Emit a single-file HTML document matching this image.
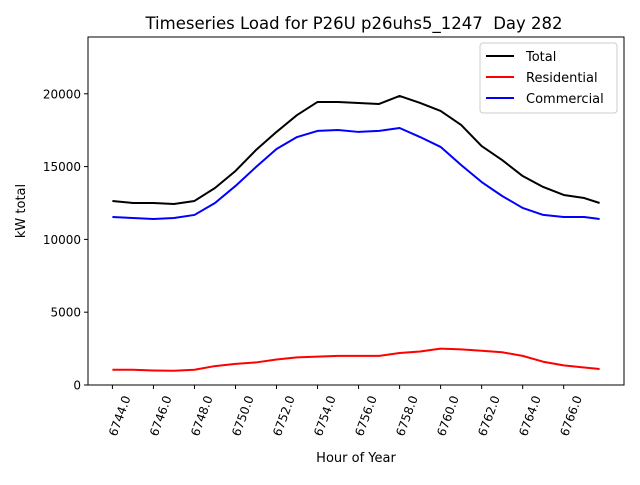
<!DOCTYPE html>
<html><head><meta charset="utf-8"><style>
body{margin:0;background:#fff}
svg text{font-family:"DejaVu Sans","Liberation Sans",sans-serif;fill:#000}
</style></head><body>
<svg id="c" width="640" height="480" xmlns="http://www.w3.org/2000/svg">
<rect width="640" height="480" fill="#fff"/>
<text x="354" y="29" font-size="16.5" text-anchor="middle" style="white-space:pre">Timeseries Load for P26U p26uhs5_1247  Day 282</text>
<g id="plot"></g>
<text x="356" y="462" font-size="13" text-anchor="middle">Hour of Year</text>
<text transform="translate(25,211) rotate(-90)" font-size="13" text-anchor="middle">kW total</text>
</svg>
<script>
const hours=[6744,6745,6746,6747,6748,6749,6750,6751,6752,6753,6754,6755,6756,6757,6758,6759,6760,6761,6762,6763,6764,6765,6766,6767,6767.75];
const total=[12640,12500,12500,12430,12640,13530,14700,16140,17380,18540,19440,19440,19370,19300,19850,19370,18820,17860,16410,15450,14350,13600,13050,12840,12500];
const residential=[1050,1050,1000,980,1050,1300,1450,1550,1750,1900,1950,2000,2000,2000,2200,2300,2500,2450,2350,2250,2000,1600,1350,1200,1100];
const commercial=[11540,11470,11400,11470,11680,12500,13670,14970,16210,17030,17450,17510,17380,17450,17650,17030,16350,15110,13940,12980,12160,11680,11540,11540,11400];
const xTicks=[6744,6746,6748,6750,6752,6754,6756,6758,6760,6762,6764,6766];
const yTicks=[0,5000,10000,15000,20000];
const L=88,R=624,T=37,B=385,xmin=6742.81,xmax=6768.94,ymax=23900;
const sx=v=>L+(v-xmin)/(xmax-xmin)*(R-L);
const sy=v=>B-v/ymax*(B-T);
const g=document.getElementById('plot');
const NS='http://www.w3.org/2000/svg';
function mk(t,a){const e=document.createElementNS(NS,t);for(const k in a)e.setAttribute(k,a[k]);g.appendChild(e);return e;}
function line(vals,color,name){
 const p=mk('polyline',{points:vals.map((v,i)=>sx(hours[i])+','+sy(v)).join(' '),fill:'none',stroke:color,'stroke-width':2,'stroke-linejoin':'round'});
 
 
}
line(total,'#000','total-line');
line(residential,'#f00','residential-line');
line(commercial,'#00f','commercial-line');
const fr=mk('rect',{x:L,y:T,width:R-L,height:B-T,fill:'none',stroke:'#000','stroke-width':1});


xTicks.forEach(v=>{
 const x=sx(v);
 mk('line',{x1:x,x2:x,y1:B,y2:B+4,stroke:'#000'});
 const t=mk('text',{transform:`translate(${x+4},${B+52}) rotate(-70)`,'font-size':12});
 t.textContent=v.toFixed(1);
 
 
});
yTicks.forEach(v=>{
 const y=sy(v);
 mk('line',{x1:L-4,x2:L,y1:y,y2:y,stroke:'#000'});
 const t=mk('text',{x:L-7,y:y+4.5,'font-size':12,'text-anchor':'end'});
 t.textContent=v;
 
 
});
const lg=mk('rect',{x:480,y:43,width:137,height:70,rx:3,fill:'#fff',stroke:'#ccc'});


[['Total','#000'],['Residential','#f00'],['Commercial','#00f']].forEach((e,i)=>{
 const y=56+i*21;
 mk('line',{x1:486,x2:514,y1:y,y2:y,stroke:e[1],'stroke-width':2});
 const t=mk('text',{x:526,y:y+5,'font-size':13});
 t.textContent=e[0];
 
 
});
</script>
</body></html>
